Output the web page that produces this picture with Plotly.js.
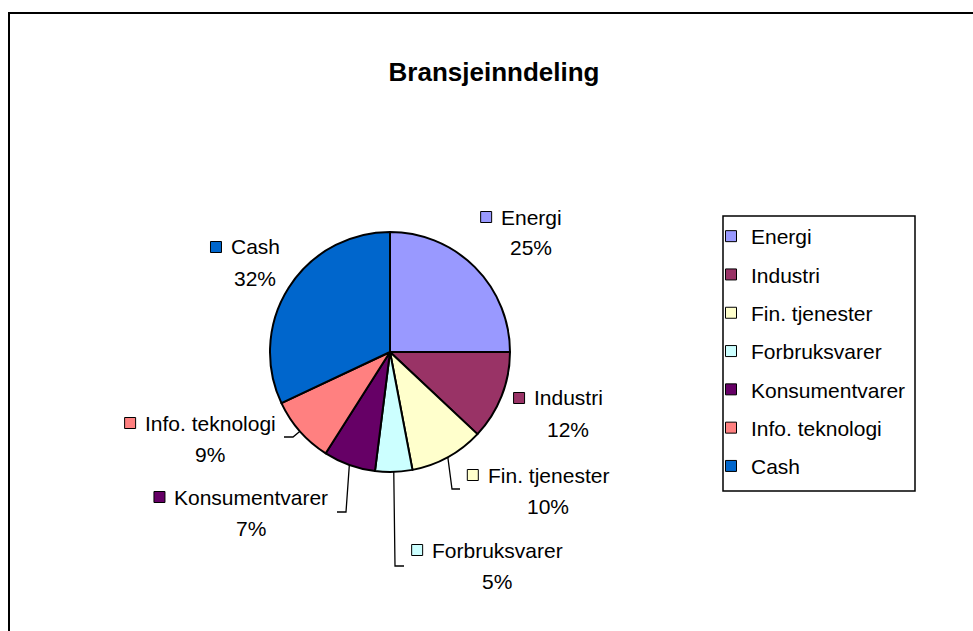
<!DOCTYPE html>
<html><head><meta charset="utf-8">
<script src="https://cdn.plot.ly/plotly-3.0.1.min.js"></script>
<style>body{margin:0;background:#fff}#chart{width:973px;height:631px}</style>
</head><body><div id="chart"></div>
<script>
// ---- data ----
const categories = ['Energi', 'Industri', 'Fin. tjenester', 'Forbruksvarer', 'Konsumentvarer', 'Info. teknologi', 'Cash'];
const shares = [25, 12, 10, 5, 7, 9, 32];
const colors = ['#9999FF', '#993366', '#FFFFCC', '#CCFFFF', '#660066', '#FF8080', '#0066CC'];
const chartTitle = 'Bransjeinndeling';

// ---- layout / style (pixels) ----
const W = 973, H = 631;
const FONT = 'Liberation Sans, Arial, sans-serif';
const LABEL_SIZE = 21;
const pieCenter = [390, 352], pieR = 120;
// label anchor: [text centre x, first line centre y]
const labelPos = [[531, 217], [568, 398], [548, 475], [497, 550], [251, 497], [210, 423], [255, 247]];
// leader line: [elbow x, elbow y, end x] or null
const leaders = [null, null, [452, 489, 460], [395, 566, 404], [346, 512, 337], [293, 437, 284], null];
const LINE_GAP = 31;
const legendBox = [723, 216, 915, 491];

const px = v => v / W;
const py = v => 1 - v / H;

const total = shares.reduce((a, b) => a + b, 0);

const canvas = document.createElement('canvas');
const ctx = canvas.getContext('2d');
ctx.font = LABEL_SIZE + 'px "Liberation Sans", Arial, sans-serif';

const annotations = [];
const shapes = [];

// frame
shapes.push({type: 'rect', xref: 'paper', yref: 'paper', x0: px(9), x1: 1.05, y0: -0.05, y1: py(13),
  line: {color: '#000', width: 2}, fillcolor: 'rgba(0,0,0,0)', layer: 'below'});
// legend border
shapes.push({type: 'rect', xref: 'paper', yref: 'paper', x0: px(legendBox[0]), x1: px(legendBox[2]),
  y0: py(legendBox[3]), y1: py(legendBox[1]), line: {color: '#000', width: 1.5}, fillcolor: '#fff', layer: 'below'});

let cum = 0;
shares.forEach((v, i) => {
  const mid = (cum + v / 2) / total * 2 * Math.PI;
  cum += v;
  const [lx, ly] = labelPos[i];
  annotations.push({xref: 'paper', yref: 'paper', x: px(lx), y: py(ly), xanchor: 'center', yanchor: 'middle',
    text: categories[i], showarrow: false, font: {family: FONT, size: LABEL_SIZE, color: '#000'}});
  annotations.push({xref: 'paper', yref: 'paper', x: px(lx), y: py(ly + LINE_GAP), xanchor: 'center', yanchor: 'middle',
    text: Math.round(v / total * 100) + '%', showarrow: false, font: {family: FONT, size: LABEL_SIZE, color: '#000'}});
  const tw = ctx.measureText(categories[i]).width;
  const sqR = lx - tw / 2 - 9;
  shapes.push({type: 'rect', xref: 'paper', yref: 'paper', x0: px(sqR - 11), x1: px(sqR), y0: py(ly - 5.5), y1: py(ly + 5.5),
    fillcolor: colors[i], line: {color: '#000', width: 1}});
  const ld = leaders[i];
  if (ld) {
    const ex = pieCenter[0] + pieR * Math.sin(mid);
    const ey = pieCenter[1] - pieR * Math.cos(mid);
    shapes.push({type: 'path', xref: 'paper', yref: 'paper',
      path: `M${px(ex)},${py(ey)} L${px(ld[0])},${py(ld[1])} L${px(ld[2])},${py(ld[1])}`,
      line: {color: '#000', width: 1.3}});
  }
});

const traces = [{
  type: 'pie', labels: categories, values: shares, sort: false, direction: 'clockwise', rotation: 0,
  marker: {colors: colors, line: {color: '#000', width: 2}}, textinfo: 'none', hoverinfo: 'label+percent',
  showlegend: false,
  domain: {x: [px(pieCenter[0] - pieR), px(pieCenter[0] + pieR)], y: [py(pieCenter[1] + pieR), py(pieCenter[1] - pieR)]}
}];
categories.forEach((c, i) => {
  traces.push({type: 'scatter', x: [null], y: [null], mode: 'markers', name: c, legendgroup: c,
    marker: {symbol: 'square', size: 11, color: colors[i], line: {color: '#000', width: 1}}, hoverinfo: 'skip'});
});

const layout = {
  width: W, height: H, margin: {l: 0, r: 0, t: 0, b: 0},
  paper_bgcolor: '#fff', plot_bgcolor: 'rgba(0,0,0,0)',
  title: {text: '<b>' + chartTitle + '</b>', font: {family: FONT, size: 26, color: '#000'},
    x: px(494), xanchor: 'center', y: py(72), yanchor: 'middle', xref: 'paper', yref: 'container'},
  xaxis: {visible: false}, yaxis: {visible: false},
  showlegend: true,
  legend: {x: px(legendBox[0] - 12), y: py(legendBox[1]), xanchor: 'left', yanchor: 'top', bgcolor: 'rgba(0,0,0,0)',
    borderwidth: 0, font: {family: FONT, size: LABEL_SIZE, color: '#000'},
    traceorder: 'grouped', tracegroupgap: 8, itemwidth: 30},
  annotations: annotations, shapes: shapes
};
Plotly.newPlot('chart', traces, layout, {displayModeBar: false, staticPlot: true});
</script></body></html>
